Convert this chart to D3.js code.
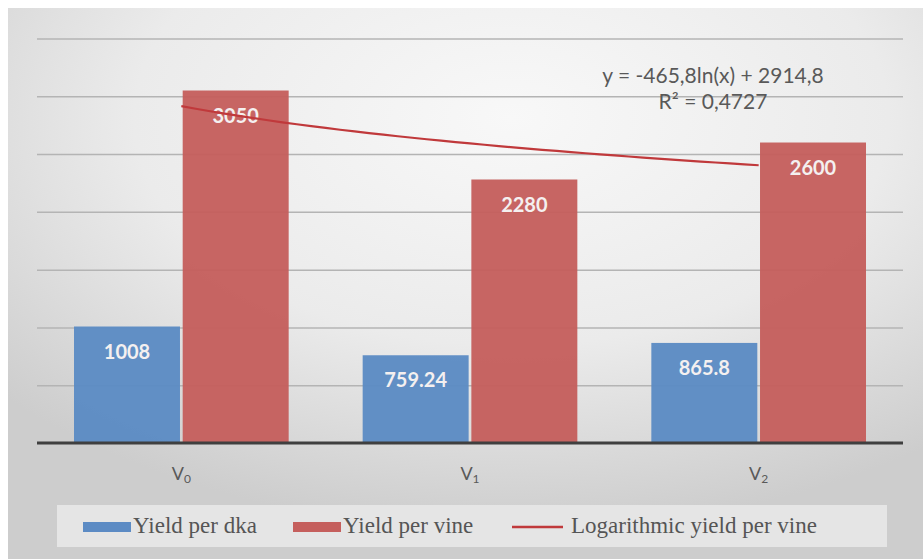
<!DOCTYPE html>
<html>
<head>
<meta charset="utf-8">
<script src="https://cdn.jsdelivr.net/npm/d3@7"></script>
<style>
  body { margin: 0; background: #fff; }
  svg { display: block; }
</style>
</head>
<body>
<svg id="chart"></svg>
<script>
// data
const categories = ["0", "1", "2"];            // subscripts of V
const seriesNames = ["Yield per dka", "Yield per vine"];
const yieldPerDka = [1008, 759.24, 865.8];
const yieldPerVine = [3050, 2280, 2600];
const valueLabels = [["1008", "759.24", "865.8"], ["3050", "2280", "2600"]];
const trendA = -465.8, trendB = 2914.8;        // y = a ln(x) + b
const trendText = ["y = -465,8ln(x) + 2914,8", "R² = 0,4727"];
const gridTicks = [500, 1000, 1500, 2000, 2500, 3000, 3500];
const legendNames = ["Yield per dka", "Yield per vine", "Logarithmic yield per vine"];

const W = 923, H = 559;
const colors = ["#5c8bc4", "#c55f5d"];
const lineColor = "#c0393b";

const svg = d3.select("#chart").attr("width", W).attr("height", H);

// gray backdrop with soft vignette
const defs = svg.append("defs");
const rg = defs.append("radialGradient").attr("id", "bg")
  .attr("cx", "55%").attr("cy", "20%").attr("r", "75%");
rg.append("stop").attr("offset", "0%").attr("stop-color", "#f8f8f8");
rg.append("stop").attr("offset", "55%").attr("stop-color", "#ebebeb");
rg.append("stop").attr("offset", "100%").attr("stop-color", "#cdcdcd");
svg.append("rect").attr("x", 8).attr("y", 8).attr("width", W - 8).attr("height", H - 8)
  .attr("fill", "url(#bg)");

const plotL = 37, plotR = 903, plotT = 38.5, base = 443;

const y = d3.scaleLinear().domain([0, 3500]).range([base, plotT]);
const x0 = d3.scaleBand().domain(categories).range([plotL, plotR]).padding(0);
const x1 = d3.scaleBand().domain(seriesNames)
  .range([37, x0.bandwidth() - 37]).paddingInner(0.025);

// gridlines
const grid = svg.append("g").attr("transform", `translate(${plotL},0)`)
  .call(d3.axisLeft(y).tickValues(gridTicks).tickSize(-(plotR - plotL)).tickFormat(""));
grid.select(".domain").remove();
grid.selectAll(".tick line").attr("stroke", "#b4b4b4").attr("stroke-width", 1.5);

const rows = seriesNames.map((s, i) => ({
  name: s, values: i === 0 ? yieldPerDka : yieldPerVine, labels: valueLabels[i], color: colors[i]
}));

const groups = svg.append("g").selectAll("g").data(rows).join("g");
groups.selectAll("rect")
  .data(r => r.values.map((v, j) => ({ name: r.name, cat: categories[j], v, color: r.color })))
  .join("rect")
  .attr("x", d => x0(d.cat) + x1(d.name))
  .attr("width", x1.bandwidth())
  .attr("y", d => y(d.v))
  .attr("height", d => base - y(d.v))
  .attr("fill", d => d.color)
  .attr("opacity", 0.96);

// baseline
svg.append("line").attr("x1", plotL).attr("x2", plotR).attr("y1", base).attr("y2", base)
  .attr("stroke", "#3f3f3f").attr("stroke-width", 3);

// value labels
groups.selectAll("text")
  .data(r => r.values.map((v, j) => ({ name: r.name, cat: categories[j], v, t: r.labels[j] })))
  .join("text")
  .attr("x", d => x0(d.cat) + x1(d.name) + x1.bandwidth() / 2)
  .attr("y", d => y(d.v) + 27)
  .attr("text-anchor", "middle")
  .attr("dominant-baseline", "middle")
  .attr("font-family", "Lato, 'Open Sans', sans-serif")
  .attr("font-weight", "bold")
  .attr("font-size", 20)
  .attr("fill", "#f4f0f0")
  .text(d => d.t);

// logarithmic trendline
const xt = d3.scaleLinear().domain([1, 3])
  .range([x0("0") + x0.bandwidth() / 2, x0("2") + x0.bandwidth() / 2]);
const pts = d3.range(1, 3.001, 0.05).map(t => [xt(t), y(trendA * Math.log(t) + trendB)]);
svg.append("path").attr("d", d3.line()(pts))
  .attr("fill", "none").attr("stroke", lineColor).attr("stroke-width", 2.2);

// equation
svg.append("g").selectAll("text").data(trendText).join("text")
  .attr("x", 713).attr("y", (d, i) => 78 + i * 26)
  .attr("text-anchor", "middle").attr("dominant-baseline", "middle")
  .attr("font-family", "Lato, sans-serif").attr("font-size", 21)
  .attr("fill", "#595959")
  .text(d => d);

// category labels V0, V1, V2
const cl = svg.append("g").selectAll("text").data(categories).join("text")
  .attr("x", d => x0(d) + x0.bandwidth() / 2)
  .attr("y", 475)
  .attr("text-anchor", "middle").attr("dominant-baseline", "middle")
  .attr("font-family", "Lato, sans-serif").attr("font-size", 18)
  .attr("fill", "#595959");
cl.append("tspan").text("V");
cl.append("tspan").attr("font-size", 12).attr("dy", 5).text(d => d);

// legend
svg.append("rect").attr("x", 57).attr("y", 505).attr("width", 830).attr("height", 42)
  .attr("fill", "#e9e9e9").attr("opacity", 0.85);
const legX = [83, 293, 512];
const lg = svg.append("g").selectAll("g").data(legendNames).join("g")
  .attr("transform", (d, i) => `translate(${legX[i]},527)`);
lg.filter((d, i) => i < 2).append("rect")
  .attr("x", 0).attr("y", -5).attr("width", 48).attr("height", 10)
  .attr("fill", (d, i) => colors[i]);
lg.filter((d, i) => i === 2).append("line")
  .attr("x1", 0).attr("x2", 51).attr("y1", 0).attr("y2", 0)
  .attr("stroke", lineColor).attr("stroke-width", 2.5);
lg.append("text")
  .attr("x", (d, i) => i < 2 ? 50 : 59)
  .attr("y", 1).attr("dominant-baseline", "middle")
  .attr("font-family", "'Liberation Serif', serif").attr("font-size", 23)
  .attr("fill", "#555")
  .text(d => d);
</script>
</body>
</html>
